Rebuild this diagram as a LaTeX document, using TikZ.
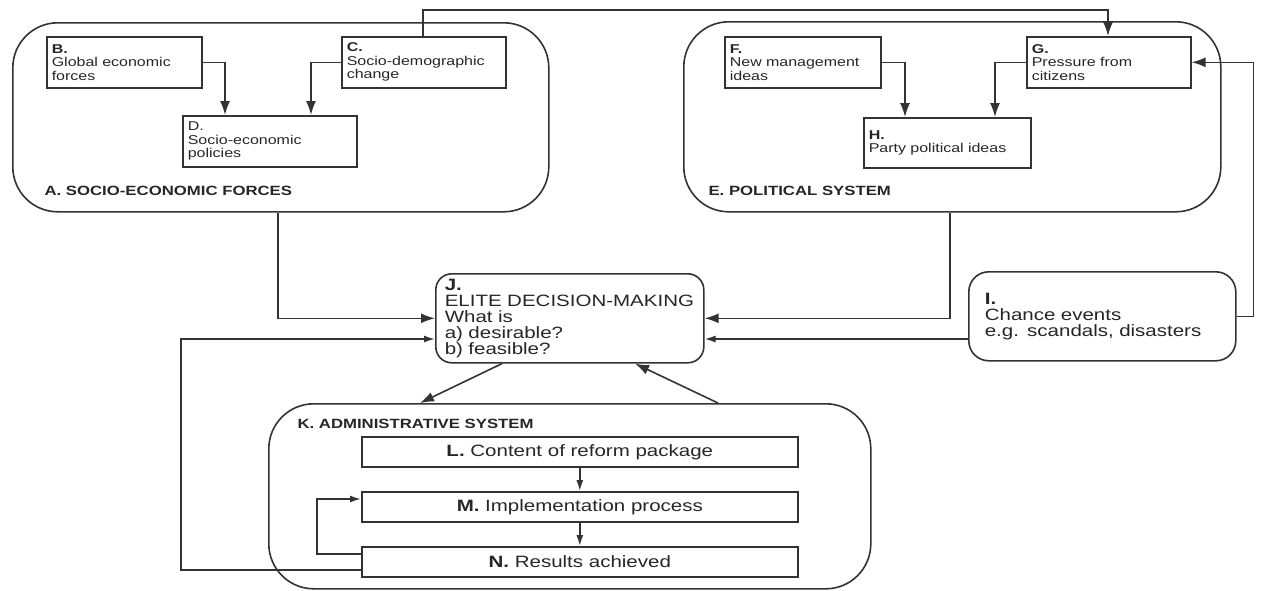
\documentclass[tikz,border=0pt]{standalone}
\usepackage{fontspec}
\setmainfont{Liberation Sans}[FakeStretch=1.25]
\usetikzlibrary{arrows.meta}
\newcommand{\smalltext}{\fontsize{12.8}{13.5}\selectfont}
\newcommand{\bigtext}{\fontsize{16.4}{16}\selectfont}

\begin{document}
\begin{tikzpicture}[x=1pt, y=-1pt, >={Latex[length=14pt,width=10pt]},
	every node/.style={font=\smalltext, text=black!85},
	line/.style={draw=black!80, line width=1.6pt},
	arr/.style={line, ->},
	smallarr/.style={line, -{Latex[length=11pt,width=7pt]}},
	box/.style={line, anchor=north west, inner xsep=5pt, align=left, minimum height=51pt},
	groupbox/.style={line, anchor=north west, rounded corners=45pt, inner sep=0pt},
	roundbox/.style={line, anchor=north west, rounded corners=16pt, align=left, minimum height=89pt, font=\bigtext},
	stagebox/.style={line, anchor=north west, minimum width=436pt, minimum height=30pt, font=\bigtext},
	grouplabel/.style={anchor=west, font=\fontsize{13.4}{14}\selectfont\bfseries}]
	\useasboundingbox (0,0) rectangle (1261,590);

	% Groups
	\node[groupbox, minimum width=536pt, minimum height=189pt] (A) at (12,22) {};
	\node[grouplabel] (Alabel) at (41,191) {A. SOCIO-ECONOMIC FORCES};
	\node[groupbox, minimum width=537pt, minimum height=190pt] (E) at (683,21) {};
	\node[grouplabel] (Elabel) at (705,191) {E. POLITICAL SYSTEM};
	\node[groupbox, minimum width=602pt, minimum height=185pt] (K) at (268,403) {};
	\node[grouplabel] (Klabel) at (294,424) {K. ADMINISTRATIVE SYSTEM};

	% Socio-economic forces
	\node[box, text width=145pt] (B) at (46,36) {\textbf{B.}\\Global economic\\forces};
	\node[box, text width=154pt] (C) at (341,36) {\textbf{C.}\\Socio-demographic\\change};
	\node[box, text width=164pt] (D) at (182,115) {D.\\Socio-economic\\policies};

	% Political system
	\node[box, text width=146pt] (F) at (724,36) {\textbf{F.}\\New management\\ideas};
	\node[box, text width=154pt] (G) at (1026,36) {\textbf{G.}\\Pressure from\\citizens};
	\node[box, text width=157pt, minimum height=50pt] (H) at (863,117) {\textbf{H.}\\Party political ideas};

	% Decision-making and chance events
	\node[roundbox, inner xsep=9pt, text width=250pt] (J) at (435,273) {\textbf{J.}\\\mbox{ELITE DECISION-MAKING}\\What is\\a) desirable?\\b) feasible?};
	\node[roundbox, rounded corners=20pt, inner xsep=16pt, text width=235pt] (I) at (968,271) {\textbf{I.}\\Chance events\\e.g. scandals, disasters};

	% Administrative system
	\node[stagebox] (L) at (361,436) {\textbf{L.} Content of reform package};
	\node[stagebox] (M) at (361,491) {\textbf{M.} Implementation process};
	\node[stagebox] (N) at (361,546) {\textbf{N.} Results achieved};

	% Arrows inside the groups
	\draw[arr] (B.east) -| (D.north -| 225,0);
	\draw[arr] (C.west) -| (D.north -| 311,0);
	\draw[arr] (F.east) -| (H.north -| 905,0);
	\draw[arr] (G.west) -| (H.north -| 995,0);
	\draw[arr] (C.north -| 423,0) -- ++(0,-26) -| (G.north -| 1108,0);
	\draw[smallarr] (L.south) -- (M.north);
	\draw[smallarr] (M.south) -- (N.north);
	\draw[smallarr] (N.west |- 0,554) -- ++(-44,0) |- (M.west |- 0,499);

	% Arrows to and from J
	\draw[arr] (A.south -| 278,0) |- (J.west);
	\draw[arr] (E.south -| 950,0) |- (J.east);
	\draw[smallarr] (I.west |- 0,339) -- (J.east |- 0,339);
	\draw[arr] (I.east) -- ++(17,0) |- (G.east);
	\draw[smallarr] (N.west |- 0,570) -- ++(-180,0) |- (J.west |- 0,339);
	\draw[arr] (J.south -| 502,0) -- (K.north -| 420,0);
	\draw[arr] (K.north -| 718,0) -- (J.south -| 635,0);
\end{tikzpicture}
\end{document}
